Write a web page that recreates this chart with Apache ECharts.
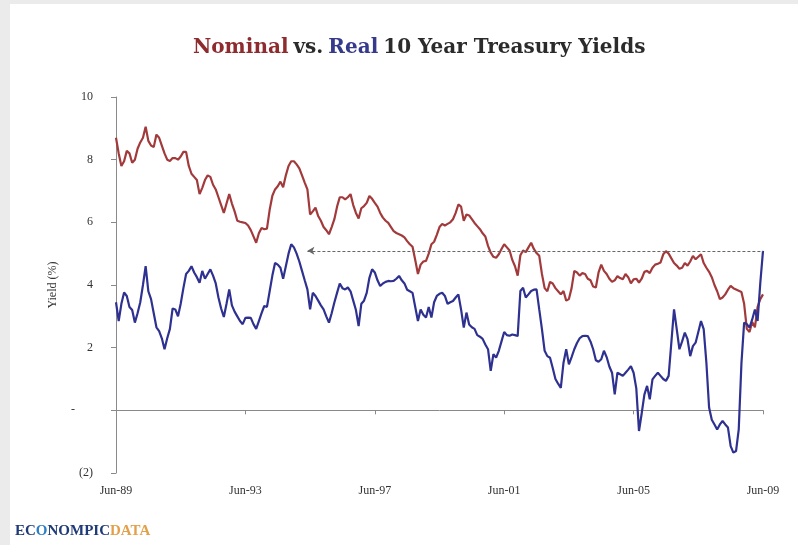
<!DOCTYPE html>
<html>
<head>
<meta charset="utf-8">
<script src="https://cdn.jsdelivr.net/npm/echarts@6/dist/echarts.min.js"></script>
<style>
html,body{margin:0;padding:0;background:#ebebeb;}
#frame{position:absolute;left:10px;top:4px;width:788px;height:541px;background:#fff;}
#chart{position:absolute;left:0;top:0;width:798px;height:545px;}
</style>
</head>
<body>
<div id="frame"></div>
<div id="chart"></div>
<script>
// Monthly categories Jun-89 .. Jun-09
const monthNames = ['Jan','Feb','Mar','Apr','May','Jun','Jul','Aug','Sep','Oct','Nov','Dec'];
const categories = [];
for (let k = 0; k < 241; k++) {
  const m = (5 + k) % 12;
  const y = (89 + Math.floor((5 + k) / 12)) % 100;
  categories.push(monthNames[m] + '-' + String(y).padStart(2, '0'));
}
const tickStep = 48; // every 4 years: Jun-89, Jun-93, ...

// Nominal 10-year yield (%)
const nominal = [
  8.70, 8.20, 7.80, 7.95, 8.28, 8.20, 7.90, 8.00, 8.35, 8.55, 8.70, 9.05,
  8.60, 8.45, 8.40, 8.80, 8.70, 8.45, 8.20, 8.00, 7.96, 8.05, 8.05, 8.00,
  8.10, 8.25, 8.25, 7.80, 7.55, 7.45, 7.35, 6.90, 7.10, 7.35, 7.50, 7.45,
  7.20, 7.05, 6.80, 6.55, 6.30, 6.60, 6.90, 6.60, 6.35, 6.05, 6.02, 6.00,
  5.98, 5.90, 5.75, 5.55, 5.35, 5.65, 5.82, 5.78, 5.80, 6.40, 6.85, 7.05,
  7.15, 7.30, 7.12, 7.50, 7.80, 7.95, 7.95, 7.85, 7.72, 7.50, 7.27, 7.05,
  6.25, 6.35, 6.47, 6.20, 6.05, 5.85, 5.75, 5.62, 5.85, 6.10, 6.50, 6.80,
  6.80, 6.73, 6.80, 6.90, 6.55, 6.30, 6.12, 6.45, 6.52, 6.62, 6.84, 6.75,
  6.62, 6.50, 6.30, 6.15, 6.05, 5.98, 5.85, 5.72, 5.66, 5.62, 5.58, 5.52,
  5.40, 5.30, 5.22, 4.80, 4.35, 4.65, 4.75, 4.77, 5.00, 5.30, 5.38, 5.60,
  5.85, 5.95, 5.90, 5.95, 6.00, 6.10, 6.30, 6.57, 6.50, 6.05, 6.25, 6.22,
  6.10, 5.98, 5.88, 5.78, 5.65, 5.55, 5.25, 5.03, 4.90, 4.87, 4.98, 5.15,
  5.30, 5.20, 5.10, 4.80, 4.60, 4.30, 4.95, 5.10, 5.05, 5.20, 5.35, 5.15,
  5.02, 4.93, 4.35, 3.90, 3.80, 4.10, 4.05, 3.90, 3.80, 3.70, 3.81, 3.50,
  3.55, 3.90, 4.45, 4.40, 4.30, 4.38, 4.35, 4.20, 4.15, 3.95, 3.92, 4.40,
  4.65, 4.45, 4.35, 4.20, 4.10, 4.15, 4.28, 4.22, 4.18, 4.35, 4.25, 4.05,
  4.18, 4.20, 4.08, 4.20, 4.42, 4.45, 4.38, 4.55, 4.65, 4.68, 4.72, 4.98,
  5.08, 5.00, 4.85, 4.70, 4.62, 4.52, 4.55, 4.70, 4.62, 4.75, 4.93, 4.82,
  4.90, 4.98, 4.70, 4.55, 4.42, 4.25, 4.00, 3.80, 3.55, 3.60, 3.70, 3.85,
  3.97, 3.90, 3.86, 3.82, 3.78, 3.40, 2.60, 2.50, 2.82, 2.65, 3.30, 3.55,
  3.70
];

// Real 10-year yield (%)
const real = [
  3.45, 2.85, 3.40, 3.76, 3.65, 3.30, 3.20, 2.80, 3.10, 3.45, 4.00, 4.60,
  3.80, 3.55, 3.10, 2.65, 2.53, 2.30, 1.95, 2.30, 2.60, 3.25, 3.22, 3.00,
  3.40, 3.90, 4.35, 4.45, 4.60, 4.40, 4.25, 4.07, 4.45, 4.20, 4.35, 4.50,
  4.30, 4.05, 3.60, 3.25, 2.98, 3.40, 3.86, 3.35, 3.15, 3.00, 2.85, 2.75,
  2.95, 2.96, 2.95, 2.75, 2.60, 2.85, 3.10, 3.33, 3.30, 3.80, 4.30, 4.70,
  4.65, 4.55, 4.20, 4.60, 5.00, 5.30, 5.20, 5.00, 4.75, 4.45, 4.15, 3.86,
  3.22, 3.75, 3.65, 3.50, 3.35, 3.22, 3.00, 2.80, 3.10, 3.44, 3.75, 4.05,
  3.90, 3.86, 3.92, 3.80, 3.50, 3.20, 2.69, 3.40, 3.50, 3.75, 4.23, 4.50,
  4.40, 4.15, 3.97, 4.05, 4.10, 4.13, 4.12, 4.13, 4.20, 4.29, 4.15, 4.05,
  3.85, 3.80, 3.75, 3.30, 2.85, 3.22, 3.05, 2.96, 3.30, 2.96, 3.45, 3.65,
  3.72, 3.75, 3.65, 3.40, 3.45, 3.49, 3.60, 3.70, 3.22, 2.64, 3.12, 2.74,
  2.65, 2.60, 2.40, 2.35, 2.28, 2.10, 1.95, 1.26, 1.79, 1.68, 1.90, 2.20,
  2.50, 2.40, 2.38, 2.42, 2.40, 2.37, 3.81, 3.91, 3.60, 3.70, 3.81, 3.85,
  3.86, 3.22, 2.59, 1.90, 1.73, 1.68, 1.35, 1.00, 0.85, 0.72, 1.52, 1.95,
  1.47, 1.70, 1.95, 2.15, 2.30, 2.37, 2.38, 2.37, 2.20, 1.95, 1.60, 1.55,
  1.63, 1.90, 1.70, 1.40, 1.20, 0.51, 1.20, 1.15, 1.10, 1.20, 1.30, 1.41,
  1.20, 0.70, -0.66, -0.10, 0.50, 0.78, 0.35, 0.99, 1.10, 1.20, 1.10, 1.00,
  0.94, 1.10, 2.16, 3.22, 2.59, 1.95, 2.20, 2.48, 2.27, 1.73, 2.05, 2.16,
  2.50, 2.85, 2.59, 1.52, 0.09, -0.30, -0.45, -0.61, -0.45, -0.34, -0.45, -0.55,
  -1.14, -1.35, -1.30, -0.61, 1.50, 2.80, 2.75, 2.64, 2.90, 3.22, 2.85, 4.07,
  5.09
];

// Y tick values
const yMin = -2, yMax = 10, yStep = 2;
// Reference arrow: from the mid-90s real-yield level to the latest real yield
const arrowFromIndex = 71;
const arrowLevel = real[real.length - 1];

const serif = 'Liberation Serif';
const chart = echarts.init(document.getElementById('chart'), null, {renderer: 'canvas'});
chart.setOption({
  backgroundColor: 'transparent',
  animation: false,
  title: {
    left: 188, top: 33,
    text: '{n|Nominal} {g|vs.} {r|Real} {g|10 Year Treasury Yields}',
    textStyle: {
      rich: {
        n: {color: '#8e2b2e', fontFamily: 'DejaVu Serif', fontSize: 20},
        r: {color: '#353a8c', fontFamily: 'DejaVu Serif', fontSize: 20},
        g: {color: '#2b2b2b', fontFamily: 'DejaVu Serif', fontSize: 20}
      }
    }
  },
  grid: {left: 116, right: 35, top: 97, bottom: 72},
  xAxis: [
    {
      type: 'category', data: categories, boundaryGap: false,
      axisLine: {onZero: true, lineStyle: {color: '#8a8a8a', width: 1}},
      axisTick: {show: true, length: 4, interval: (i) => i % tickStep === 0 && i > 0, lineStyle: {color: '#8a8a8a'}},
      axisLabel: {show: false},
      splitLine: {show: false}
    },
    {
      type: 'category', data: categories, boundaryGap: false, position: 'bottom',
      axisLine: {show: false, onZero: false},
      axisTick: {show: false},
      axisLabel: {
        interval: (i) => i % tickStep === 0,
        margin: 12, color: '#333', fontFamily: serif, fontSize: 12
      },
      splitLine: {show: false}
    }
  ],
  yAxis: {
    type: 'value', min: yMin, max: yMax, interval: yStep,
    name: 'Yield (%)', nameLocation: 'middle', nameGap: 57, nameRotate: 90,
    nameTextStyle: {color: '#333', fontFamily: serif, fontSize: 12},
    axisLine: {show: true, lineStyle: {color: '#8a8a8a', width: 1}},
    axisTick: {show: true, length: 5, lineStyle: {color: '#8a8a8a'}},
    axisLabel: {
      margin: 23, color: '#333', fontFamily: serif, fontSize: 12,
      formatter: (v) => v < 0 ? '(' + Math.abs(v) + ')' : (v === 0 ? '-\u2003\u2002' : String(v))
    },
    splitLine: {show: false}
  },
  series: [
    {
      name: 'Nominal', type: 'line', data: nominal, xAxisIndex: 0,
      showSymbol: false, symbol: 'none',
      lineStyle: {color: '#a23a3c', width: 2.2}, itemStyle: {color: '#a23a3c'},
      z: 2
    },
    {
      name: 'Real', type: 'line', data: real, xAxisIndex: 0,
      showSymbol: false, symbol: 'none',
      lineStyle: {color: '#2e3190', width: 2.2}, itemStyle: {color: '#2e3190'},
      z: 3,
      markLine: {
        silent: true, symbol: ['arrow', 'none'], symbolSize: [6, 7],
        label: {show: false},
        lineStyle: {color: '#666', type: [3, 2], width: 1},
        data: [[
          {coord: [categories[arrowFromIndex], arrowLevel]},
          {coord: [categories[categories.length - 1], arrowLevel]}
        ]]
      }
    }
  ],
  graphic: [
    {
      type: 'text', left: 15, top: 524,
      style: {
        text: '{a|EC}{o|O}{a|NOMPIC}{d|DATA}',
        rich: {
          a: {fill: '#1f3a78', fontFamily: serif, fontWeight: 'bold', fontSize: 15},
          o: {fill: '#2f7fc4', fontFamily: serif, fontWeight: 'bold', fontSize: 15},
          d: {fill: '#e3a048', fontFamily: serif, fontWeight: 'bold', fontSize: 15}
        }
      }
    }
  ]
});
</script>
</body>
</html>
